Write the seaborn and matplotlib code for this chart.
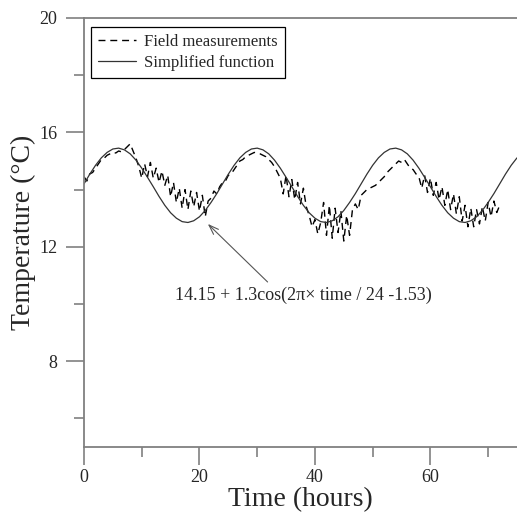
import numpy as np
import pandas as pd
import matplotlib
matplotlib.use('Agg')
import matplotlib.pyplot as plt
from matplotlib.ticker import MultipleLocator
import seaborn as sns

# Medições de campo (leitura do gráfico, passo de 0.5 h)
meas_hours = np.arange(0, 72.5, 0.5)
meas_temp = [
    14.45, 14.30, 14.55, 14.60, 14.75, 14.90, 15.05, 15.10, 15.20, 15.25,
    15.30, 15.28, 15.35, 15.32, 15.40, 15.50, 15.60, 15.35, 15.10, 14.80,
    14.40, 14.90, 14.45, 14.95, 14.40, 14.75, 14.25, 14.65, 14.15, 14.50,
    13.75, 14.25, 13.55, 14.05, 13.35, 14.00, 13.30, 13.95, 13.40, 13.90,
    13.25, 13.80, 13.05, 13.60, 13.70, 13.95, 13.85, 14.10, 14.25, 14.30,
    14.50, 14.55, 14.70, 14.85, 15.00, 15.05, 15.15, 15.20, 15.25, 15.30,
    15.28, 15.25, 15.20, 15.15, 15.05, 14.95, 14.80, 14.60, 14.40, 13.85,
    14.50, 13.75, 14.35, 13.65, 14.25, 13.50, 14.05, 13.40, 13.10, 12.70,
    12.95, 12.45, 12.85, 13.55, 12.40, 13.45, 12.30, 13.35, 12.50, 13.25,
    12.20, 13.10, 12.40, 13.30, 13.50, 13.30, 13.80, 13.90, 14.00, 14.05,
    14.10, 14.15, 14.25, 14.35, 14.45, 14.60, 14.70, 14.80, 14.90, 15.00,
    14.95, 15.05, 14.90, 14.75, 14.70, 14.55, 14.45, 14.05, 14.50, 13.90,
    14.40, 13.80, 14.25, 13.65, 14.10, 13.45, 14.00, 13.30, 13.85, 13.15,
    13.75, 12.90, 13.45, 12.70, 13.35, 12.70, 13.30, 12.80, 13.40, 12.90,
    13.55, 13.05, 13.60, 13.20, 13.45,
]

# Função simplificada (valores horários)
func_hours = np.arange(0, 76)
func_temp = [
    14.20, 14.54, 14.85, 15.11, 15.30, 15.42, 15.45, 15.39, 15.25, 15.03, 14.75, 14.43,
    14.10, 13.76, 13.45, 13.19, 13.00, 12.88, 12.85, 12.91, 13.05, 13.27, 13.55, 13.86,
    14.20, 14.54, 14.85, 15.11, 15.30, 15.42, 15.45, 15.39, 15.25, 15.03, 14.75, 14.43,
    14.10, 13.76, 13.45, 13.19, 13.00, 12.88, 12.85, 12.91, 13.05, 13.27, 13.55, 13.86,
    14.20, 14.54, 14.85, 15.11, 15.30, 15.42, 15.45, 15.39, 15.25, 15.03, 14.75, 14.43,
    14.10, 13.76, 13.45, 13.19, 13.00, 12.88, 12.85, 12.91, 13.05, 13.27, 13.55, 13.86,
    14.20, 14.54, 14.85, 15.11,
]

legend_labels = ['Field measurements', 'Simplified function']
formula_text = '14.15 + 1.3cos(2\u03c0\u00d7 time / 24 -1.53)'

df_meas = pd.DataFrame({'hours': meas_hours, 'temp': meas_temp})
df_func = pd.DataFrame({'hours': func_hours, 'temp': func_temp})

sns.set_style('ticks')
plt.rcParams['font.family'] = ['Liberation Serif', 'DejaVu Serif']

fig = plt.figure(figsize=(5.17, 5.18), dpi=100)
ax = fig.add_axes([84 / 517, 71 / 518, 433 / 517, 429 / 518])

sns.lineplot(data=df_meas, x='hours', y='temp', ax=ax, color='black', lw=1.0,
             linestyle=(0, (5, 3.5)), estimator=None, sort=False,
             label=legend_labels[0])
sns.lineplot(data=df_func, x='hours', y='temp', ax=ax, color='#333333', lw=0.9,
             estimator=None, sort=False, label=legend_labels[1])

ax.set_xlim(0, 75)
ax.set_ylim(5, 20)
ax.xaxis.set_major_locator(MultipleLocator(20))
ax.xaxis.set_minor_locator(MultipleLocator(10))
ax.yaxis.set_major_locator(MultipleLocator(4))
ax.yaxis.set_minor_locator(MultipleLocator(2))

gris = '#808080'
for lado in ['left', 'bottom', 'top']:
    ax.spines[lado].set_color(gris)
    ax.spines[lado].set_linewidth(1.3)
ax.spines['right'].set_visible(False)
ax.tick_params(which='major', length=13, width=1.2, color=gris, labelsize=13, pad=6)
ax.tick_params(axis='x', which='major', pad=3)
ax.tick_params(which='minor', length=7, width=1.2, color=gris)

ax.set_xlabel('Time (hours)', fontsize=20)
ax.set_ylabel('Temperature (\u00b0C)', fontsize=20)
ax.xaxis.set_label_coords(0.5, -0.094)
ax.yaxis.set_label_coords(-0.112, 0.5)

# Anotação da fórmula
ax.annotate('', xy=(21.45, 12.8), xytext=(31.8, 10.77),
            arrowprops=dict(arrowstyle='->, head_length=0.7, head_width=0.25',
                            color='#555555', lw=0.8, shrinkA=0, shrinkB=0))
ax.text(15.74, 10.3, formula_text, fontsize=13, ha='left', va='center')

handles, labels = ax.get_legend_handles_labels()
leg = ax.legend(handles, labels, loc='upper left', bbox_to_anchor=(0.016, 0.978),
                borderaxespad=0, fontsize=12, frameon=True, fancybox=False,
                framealpha=1, edgecolor='black', handlelength=2.3,
                handletextpad=0.5, labelspacing=0.3, borderpad=0.4)
leg.get_frame().set_linewidth(0.9)

fig.savefig('out.png', dpi=100)
